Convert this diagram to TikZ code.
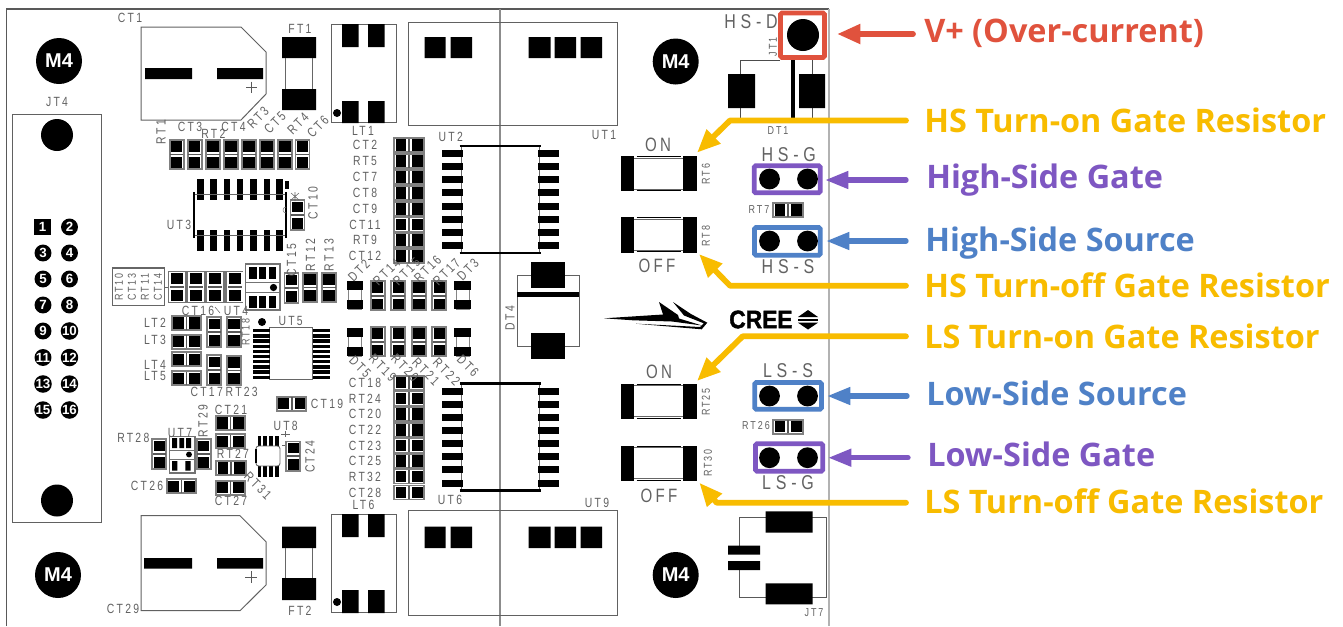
\documentclass[tikz,border=0pt]{standalone}
\usepackage{fontspec}
\usetikzlibrary{arrows.meta}
\setmainfont{Liberation Sans}
\newfontfamily\pcbfont[FakeStretch=0.78,LetterSpace=17]{Liberation Sans}
\newfontfamily\pcbwide[FakeStretch=0.8,LetterSpace=24]{Liberation Sans}
\newfontfamily\callfont{Open Sans}
\newfontfamily\creefont[BoldFeatures={FakeBold=1.5,FakeStretch=0.9}]{Liberation Sans}
\definecolor{cred}{HTML}{E0523D}
\definecolor{cyel}{HTML}{F8BC00}
\definecolor{cpur}{HTML}{7E57C2}
\definecolor{cblu}{HTML}{4F81C7}
\definecolor{ink}{HTML}{626262}
\tikzset{
 lbl/.style={text=ink,font=\pcbfont\fontsize{10}{11}\selectfont,inner sep=0pt},
 lblb/.style={text=ink,font=\pcbwide\fontsize{15}{16}\selectfont,inner sep=0pt},
 lblc/.style={text=ink,font=\pcbfont\fontsize{14.5}{16}\selectfont,inner sep=0pt},
 lbls/.style={text=ink,font=\pcbfont\fontsize{8.6}{9}\selectfont,inner sep=0pt},
 call/.style={font=\callfont\bfseries\fontsize{24.3}{25}\selectfont,inner sep=0pt,anchor=base west},
 outl/.style={draw=black!62,line width=0.75pt},
 mhole/.style={fill=black,draw=none,circle,minimum size=34.5pt,inner sep=0pt,text=white,font=\bfseries\fontsize{15}{16}\selectfont},
 pinlab/.style={fill=black,draw=none,circle,minimum size=12.7pt,inner sep=0pt,text=white,font=\bfseries\fontsize{10}{11}\selectfont},
 callarrow/.style={line width=4.3pt,line cap=round,line join=round,-{Triangle[length=17.5pt,width=14pt]}},
 sarrow/.style={line width=4pt,line cap=round,-{Triangle[length=17.5pt,width=12.5pt]}},
 jumper/.style={line width=3.5pt,rounded corners=1pt},
 vchip/.pic={
  \draw[draw=black!50,fill=white,line width=1.4pt] (-7,-14.7) rectangle (7,14.7);
  \fill[black] (-5.6,-13.5) rectangle (5.6,-2.8);
  \fill[black] (-5.6,2.8) rectangle (5.6,13.5);
  \fill[black!65] (-6.5,-0.8) rectangle (6.5,0.8);
 },
 hchip/.pic={
  \draw[draw=black!50,fill=white,line width=1.4pt] (-14.7,-7) rectangle (14.7,7);
  \fill[black] (-13.5,-5.6) rectangle (-2.8,5.6);
  \fill[black] (2.8,-5.6) rectangle (13.5,5.6);
  \fill[black!65] (-0.8,-6.5) rectangle (0.8,6.5);
 },
 dchip/.pic={
  \draw[draw=black!48,line width=0.7pt] (-6.5,-14) rectangle (6.5,14);
  \fill[black] (-8.3,-14) rectangle (8.3,-5);
  \fill[black] (-8.3,5) rectangle (8.3,14);
 },
 bres/.pic={
  \fill[black] (-38,-17.7) rectangle (-24.5,17.7);
  \fill[black] (24.5,-17.7) rectangle (38,17.7);
  \draw[black,line width=0.9pt] (-22,-17) -- (22,-17) (-22,17) -- (22,17);
  \draw[black!60,line width=0.5pt] (-24.5,-15.5) -- (24.5,-15.5) (-24.5,15.5) -- (24.5,15.5);
 },
 soic/.pic={
  \draw[black!60,line width=0.6pt] (-39,-53) -- (-39,53) (39,-53) -- (39,53);
  \draw[black,line width=1.6pt] (-40.5,-53.5) -- (40.5,-53.5) (-40.5,53.5) -- (40.5,53.5);
  \foreach \yy in {-46,-32.9,-19.8,-6.6,6.6,19.8,32.9,46}{
   \fill[black] (-58.5,\yy-3.5) rectangle (-37,\yy+3.5);
   \fill[black] (37.5,\yy-3.5) rectangle (59,\yy+3.5);
  }
 },
}
\begin{document}
\begin{tikzpicture}[x=0.75pt,y=-0.75pt]
\useasboundingbox (0,0) rectangle (1343,626);
\fill[white] (0,0) rectangle (1343,626);
% board
\draw[black!65,line width=1pt] (6.5,626) -- (6.5,9) -- (829,9);
\draw[black!30,line width=1.2pt] (829,9) -- (829,626);
\draw[black!45,line width=1.1pt] (500,9) -- (500,626);
% M4
\node[mhole] (m1) at (59,61) {M4};
\node[mhole] (m2) at (58,575) {M4};
\node[mhole] (m3) at (675.7,61.5) {M4};
\node[mhole] (m4) at (675.7,575) {M4};
% JT4
\draw[outl] (12.7,114) rectangle (101,522);
\node[lbl] at (57,102) {JT4};
\fill (57,135) circle (12pt);
\fill (57,500.5) circle (12pt);
\node[fill=black,minimum size=12.7pt,inner sep=0pt,text=white,font=\bfseries\fontsize{10}{11}\selectfont] (p1) at (42.5,227) {1};
\node[pinlab] (p2) at (69.5,227) {2};
\node[pinlab] (p3) at (43,253) {3};
\node[pinlab] (p4) at (69.5,253) {4};
\node[pinlab] (p5) at (43,279) {5};
\node[pinlab] (p6) at (69.5,279) {6};
\node[pinlab] (p7) at (43,305) {7};
\node[pinlab] (p8) at (69.5,305) {8};
\node[pinlab] (p9) at (43,331) {9};
\node[pinlab] (p10) at (69.5,331) {10};
\node[pinlab] (p11) at (43,357.5) {11};
\node[pinlab] (p12) at (69.5,357.5) {12};
\node[pinlab] (p13) at (43,384) {13};
\node[pinlab] (p14) at (69.5,384) {14};
\node[pinlab] (p15) at (43,410) {15};
\node[pinlab] (p16) at (69.5,410) {16};
% CT1 / CT29
\draw[outl] (141,27) -- (241,27) -- (266,52) -- (266,94) -- (241,120) -- (141,120) -- cycle;
\fill (145,68) rectangle (192,79) (217,68) rectangle (263,79);
\draw[black!65,line width=.6pt] (246,87) -- (257,87) (251.5,81.5) -- (251.5,92.5);
\node[lbl] at (130,18) {CT1};
\draw[outl] (141,515.7) -- (240,515.7) -- (266,541.7) -- (266,585) -- (240,610.7) -- (141,610.7) -- cycle;
\fill (144,558) rectangle (192,568.7) (217,558) rectangle (263,568.7);
\draw[black!65,line width=.6pt] (245,577) -- (257,577) (251,571) -- (251,583);
\node[lbl] at (123,609) {CT29};
% FT1 FT2
\fill (282,37) rectangle (316,58) (282,89) rectangle (316,110);
\draw[black!60,line width=.6pt] (285,58) -- (285,89) (312,58) -- (312,89);
\node[lbl] at (300,29) {FT1};
\fill (282,526.7) rectangle (316,548) (282,578) rectangle (316,600);
\draw[black!60,line width=.6pt] (285,548) -- (285,578) (312,548) -- (312,578);
\node[lbl] at (300,611) {FT2};
% LT1 LT6
\draw[outl] (331,24) rectangle (396,122);
\fill (342,24) rectangle (358.5,47) (368,24) rectangle (384.5,47) (342,101) rectangle (358.5,123) (368,101) rectangle (384.5,123);
\fill (337,113) circle (3pt);
\node[lbl] at (363,131) {LT1};
\draw[outl] (331,514) rectangle (396,612);
\fill (342,514) rectangle (358.5,537) (368,514) rectangle (384.5,537) (342,590) rectangle (358.5,613) (368,590) rectangle (384.5,613);
\fill (337,602) circle (3pt);
\node[lbl] at (363.5,505) {LT6};
% UT1/UT2 block and UT6/UT9 block
\draw[outl] (408.7,22) rectangle (617,125.7);
\fill (424.5,37) rectangle (445.5,58) (450.5,37) rectangle (472,58) (528.5,37) rectangle (550.5,58) (554.5,37) rectangle (576,58) (580.5,37) rectangle (602,58);
\node[lbl] at (450.7,137) {UT2};
\node[lbl] at (604,135) {UT1};
\draw[outl] (408.7,510.7) rectangle (617,615);
\fill (424.5,526.7) rectangle (445.5,548) (450.5,526.7) rectangle (472,548) (528.5,526.7) rectangle (550.5,548) (554.5,526.7) rectangle (576,548) (580.5,526.7) rectangle (602,548);
\node[lbl] at (450,500) {UT6};
\node[lbl] at (597,503) {UT9};
% SOICs
\pic at (500,199.5) {soic};
\pic at (500,437) {soic};
% cap column
\foreach \yy in {145,161,177,193,209,224.5,240,256,382.7,398.5,414,430,445.5,461,476.5,492.5}{\pic at (409,\yy) {hchip};}
\foreach \tt/\yy in {CT2/145,RT5/161,CT7/177,CT8/193,CT9/209,CT11/224.5,RT9/240,CT12/256,CT18/382.7,RT24/398.5,CT20/414,CT22/430,CT23/445.5,CT25/461,RT32/476.5,CT28/492.5}{\node[lbl] at (365,\yy) {\tt};}
% top row chips
\foreach \xx in {176.7,194.7,213,231,249,267,285,302.5}{\pic at (\xx,154.5) {vchip};}
\node[lbl,rotate=90] at (161,132) {RT1};
\node[lbl] at (190,127) {CT3};
\node[lbl] at (213.3,134) {RT2};
\node[lbl] at (233.5,127) {CT4};
\node[lbl,rotate=45] at (258,118) {RT3};
\node[lbl,rotate=45] at (275,123) {CT5};
\node[lbl,rotate=45] at (298,124) {RT4};
\node[lbl,rotate=45] at (318,127) {CT6};
% UT3
\foreach \xx in {200.7,213.7,227,240,253.5,267,279.5}{
 \fill (\xx-3.3,179) rectangle (\xx+3.3,200);
 \fill (\xx-3.3,230) rectangle (\xx+3.3,250.7);
}
\fill (285,181) rectangle (289,189);
\draw[black!60,line width=.6pt] (194,194) -- (286,194) (194,235) -- (286,235);
\draw[black,line width=1.2pt] (193.7,192) -- (193.7,238) (286,192) -- (286,238);
\node[lbl] at (179,225) {UT3};
\pic at (297.5,215) {vchip};
\node[lbl,rotate=90] at (313,203) {CT10};
\draw[black!60,line width=.4pt] (291,193) -- (299,200) (299,193) -- (291,200) (295,192) -- (295,201);
\draw[black!50,line width=.4pt] (286,213) arc[start angle=90,end angle=270,radius=3];
% RT10 block
\draw[black!60,fill=white,line width=.8pt] (112.7,268) rectangle (164.3,305.7);
\node[lbls,rotate=90] at (119,287) {RT10};
\node[lbls,rotate=90] at (132,287) {CT13};
\node[lbls,rotate=90] at (145,287) {RT11};
\node[lbls,rotate=90] at (158,287) {CT14};
\draw[black!60,line width=.6pt] (164.3,287) -- (168.3,287);
\fill[black!55] (168.3,270.7) rectangle (242.7,303);
\foreach \xx in {176.7,196,215,235}{
 \fill[white] (\xx-7.8,271.5) rectangle (\xx+7.8,302.2);
 \fill (\xx-6,272.8) rectangle (\xx+6,284);
 \fill (\xx-6,289.5) rectangle (\xx+6,300.8);
 \fill[black!65] (\xx-7,285.9) rectangle (\xx+7,287.6);
}
% UT4
\draw[black!55,line width=.8pt] (245.7,264) rectangle (280,310);
\draw[black!55,line width=.7pt] (245.7,282.7) -- (280,282.7) (245.7,292) -- (280,292);
\foreach \xx in {249.3,259,268.7}{\fill (\xx,267.3) rectangle (\xx+7.3,279); \fill (\xx,295.7) rectangle (\xx+7.3,307.7);}
\fill (273.5,287.5) circle (2.7pt);
\node[lbl] at (236,310.5) {UT4};
\node[lbl] at (198,311) {CT16};
\draw[black!60,line width=.4pt] (215,307) -- (220,313);
\pic at (291.5,288) {vchip};
\pic at (310,287.5) {vchip};
\pic at (329,287.5) {vchip};
\node[lbl,rotate=90] at (291.5,260) {CT15};
\node[lbl,rotate=90] at (310.5,255) {RT12};
\node[lbl,rotate=90] at (329,255) {RT13};
% UT5
\draw[black!60,line width=.9pt] (269.3,327.7) rectangle (312.7,379.3);
\foreach \yy in {0,...,9}{
 \fill (253.3,329 + 5.18*\yy) rectangle (270,332.4 + 5.18*\yy);
 \fill (312.7,329 + 5.18*\yy) rectangle (330,332.4 + 5.18*\yy);
}
\fill (262,322) circle (3pt);
\node[lbl] at (290.7,321) {UT5};
% LT2..5
\foreach \yy in {323,341.7,359.3,378.3}{\pic at (186.3,\yy) {hchip};}
\node[lbl] at (155,323) {LT2};
\node[lbl] at (155,340) {LT3};
\node[lbl] at (155,365) {LT4};
\node[lbl] at (155,376) {LT5};
\pic at (214.3,332) {vchip};
\pic at (234,332) {vchip};
\pic at (214.3,370) {vchip};
\pic at (234,370.5) {vchip};
\node[lbls,rotate=90] at (245.7,332) {RT18};
\node[lbl] at (206.7,392) {CT17};
\node[lbl] at (241.7,392) {RT23};
% CT19
\pic at (291.7,403.7) {hchip};
\node[lbl] at (327,404) {CT19};
% CT21 group
\pic at (230.5,423) {hchip};
\pic at (230.5,441.3) {hchip};
\pic at (231,468) {hchip};
\pic at (230.5,487.7) {hchip};
\node[lbl] at (231,410) {CT21};
\node[lbl] at (233,454) {RT27};
\node[lbl] at (231,500.5) {CT27};
\node[lbl,rotate=90] at (203,421) {RT29};
\node[lbl] at (133.3,438) {RT28};
% UT7
\draw[black!55,line width=.8pt] (169.3,436.7) rectangle (195,473);
\draw[black!55,line width=.7pt] (169.3,450.7) -- (195,450.7) (169.3,459.3) -- (195,459.3);
\fill (172,438) rectangle (177,448) (179.3,438) rectangle (184,448) (186,438) rectangle (191,448);
\fill (172,461) rectangle (177.3,470.7) (185.3,461) rectangle (190.7,470.7);
\fill (189,454.5) circle (2.2pt);
\node[lbl] at (180,432.5) {UT7};
\pic at (159.3,454) {vchip};
\pic at (203.7,454) {vchip};
\pic at (181.3,486.3) {hchip};
\node[lbl] at (147,486) {CT26};
% UT8
\foreach \xx in {259.3,265.1,270.9,276.7}{
 \fill (\xx-1.8,436) rectangle (\xx+1.8,446);
 \fill (\xx-1.8,466) rectangle (\xx+1.8,476.7);
}
\draw[black!60,line width=.7pt,rounded corners=2pt] (256,446) rectangle (280,466);
\draw[black,line width=1pt] (256,449) -- (256,463);
\node[lbl] at (285.7,425.5) {UT8};
\draw[black!60,line width=.4pt] (281,434) -- (290,434) (285.5,431) -- (285.5,437) (282,445) -- (292,445);
\pic at (293.3,456.2) {vchip};
\node[lbl,rotate=90] at (310,456.7) {CT24};
\node[lbl,rotate=-45] at (258,486) {RT31};
% DT rows
\pic at (355,295.3) {dchip};
\pic at (462.7,295.3) {dchip};
\pic at (355,342) {dchip};
\pic at (462.7,342) {dchip};
\foreach \xx in {377.7,398.3,419,439.3}{\pic at (\xx,295.7) {vchip}; \pic at (\xx,341.7) {vchip};}
\node[lbl,rotate=45] at (359,271) {DT2};
\node[lbl,rotate=45] at (386.7,272) {RT14};
\node[lbl,rotate=45] at (406.7,272) {RT15};
\node[lbl,rotate=45] at (427.7,269) {RT16};
\node[lbl,rotate=45] at (446.7,272) {RT17};
\node[lbl,rotate=45] at (468,270) {DT3};
\node[lbl,rotate=-45] at (360,366.7) {DT5};
\node[lbl,rotate=-45] at (382.7,368) {RT19};
\node[lbl,rotate=-45] at (405,368) {RT20};
\node[lbl,rotate=-45] at (426,371.7) {RT21};
\node[lbl,rotate=-45] at (446.7,372) {RT22};
\node[lbl,rotate=-45] at (468,366) {DT6};
% DT4
\draw[outl] (517.3,275.7) rectangle (579,346.7);
\fill (530.7,261.7) rectangle (565.3,288);
\fill (517.3,292.3) rectangle (579,297);
\fill (530.7,332.7) rectangle (565.3,358.7);
\node[lbl,rotate=90] at (510,318) {DT4};
% big resistors
\pic at (658.5,173.7) {bres};
\pic at (658.5,234.8) {bres};
\pic at (658.5,401.3) {bres};
\pic at (658.5,463.3) {bres};
\node[lblc] at (658,145) {ON};
\node[lblc] at (657,266) {OFF};
\node[lblc] at (659,372) {ON};
\node[lblc] at (659,496) {OFF};
\node[lbls,rotate=90] at (706,174) {RT6};
\node[lbls,rotate=90] at (706,236) {RT8};
\node[lbls,rotate=90] at (706,402) {RT25};
\node[lbls,rotate=90] at (708,463) {RT30};
% DT1 / JT1
\draw[black!70,line width=.6pt] (740,118) -- (740,60.7) -- (780,60.7);
\draw[black!70,line width=.6pt] (812,60) -- (812,118);
\draw[black,line width=3.3pt] (793,60) -- (793,118);
\fill (728,74) rectangle (755,108) (799,74) rectangle (825,108);
\node[lbls] at (778,131) {DT1};
\node[lblb] at (751,22) {HS-D};
\node[lbls,rotate=90] at (773,47) {JT1};
\draw[cred,jumper] (780.5,13) rectangle (824.5,57.5);
\fill (803,35) circle (12pt);
% jumpers
\draw[cpur,jumper] (754.2,165.8) rectangle (820.2,192.8);
\fill (769.5,179) circle (7.8pt) (807.5,179) circle (7.8pt);
\node[lblb] at (788.7,155) {HS-G};
\node[lbls] at (759,210) {RT7};
\pic at (788,210) {hchip};
\draw[cblu,jumper] (754.5,227.5) rectangle (820.2,255.2);
\fill (769.5,241) circle (7.8pt) (807.5,241) circle (7.8pt);
\node[lblb] at (788,267) {HS-S};
\draw[cblu,jumper] (754.8,382.5) rectangle (821.5,409.2);
\fill (769.5,396) circle (7.8pt) (807.5,396) circle (7.8pt);
\node[lblb] at (788,371) {LS-S};
\node[lbls] at (756,426) {RT26};
\pic at (788,426.7) {hchip};
\draw[cpur,jumper] (755.5,443.8) rectangle (822.8,471.2);
\fill (769.5,457.7) circle (7.8pt) (807.5,457.7) circle (7.8pt);
\node[lblb] at (788,483) {LS-G};
% logo
\fill (604,318.3) -- (663,314.5) -- (659,302) -- (678,315) -- (679,318.5) -- (702,325.5) -- (672,321.5) -- (633,320.3) -- cycle;
\fill (673,302) -- (691,314) -- (707.3,322.7) -- (701.7,329.3) -- (636,323.7) -- (700,327) -- (703.8,323.3) -- (684,315.5) -- cycle;
\node[inner sep=0pt,anchor=west,font=\creefont\bfseries\fontsize{19}{20}\selectfont] (cree) at (729,319.5) {CREE};
\fill (798,317) -- (808,310) -- (818,317) -- cycle;
\fill (798,322.7) -- (808,329.5) -- (818,322.7) -- cycle;
\fill (798,319.2) rectangle (818,320.6);
% JT7
\draw[black!65,line width=.6pt] (739,545.7) -- (739,517) -- (826.3,517) -- (826.3,597.7) -- (739,597.7) -- (739,570);
\fill (765.7,511.3) rectangle (812.7,532.7) (765.7,583.3) rectangle (812.7,604.3);
\fill (728,545.7) rectangle (760,554.7) (728,561) rectangle (760,570);
\node[lbls] at (814,612.7) {JT7};
% call-out labels
\node[call,text=cred] (tv) at (924,42.7) {V+ (Over-current)};
\node[call,text=cyel] (t1) at (924,132.7) {HS Turn-on Gate Resistor};
\node[call,text=cpur] (t2) at (926,188.3) {High-Side Gate};
\node[call,text=cblu] (t3) at (925,251.5) {High-Side Source};
\node[call,text=cyel] (t4) at (924,297.5) {HS Turn-off Gate Resistor};
\node[call,text=cyel] (t5) at (924,348.5) {LS Turn-on Gate Resistor};
\node[call,text=cblu] (t6) at (926,405.5) {Low-Side Source};
\node[call,text=cpur] (t7) at (927,466.5) {Low-Side Gate};
\node[call,text=cyel] (t8) at (924,513.5) {LS Turn-off Gate Resistor};
% call-out arrows
\coordinate (av) at (837,34);
\coordinate (a1) at (697,152.7);
\coordinate (a2) at (825,180);
\coordinate (a3) at (826,241);
\coordinate (a4) at (699,254);
\coordinate (a5) at (697,381);
\coordinate (a6) at (827,396);
\coordinate (a7) at (828,457.7);
\coordinate (a8) at (699.3,482.7);
\draw[callarrow,cred] (913,34) -- (av);
\draw[callarrow,cyel] (906,120.5) -- (730,120.5) -- (a1);
\draw[sarrow,cpur] (906,180) -- (a2);
\draw[sarrow,cblu] (906,241) -- (a3);
\draw[callarrow,cyel] (906,285.7) -- (730,285.7) -- (a4);
\draw[callarrow,cyel] (906,336.3) -- (742.7,336.3) -- (a5);
\draw[sarrow,cblu] (907,396) -- (a6);
\draw[sarrow,cpur] (908,457.7) -- (a7);
\draw[callarrow,cyel] (906,502.7) -- (716.7,502.7) -- (a8);
\end{tikzpicture}
\end{document}
